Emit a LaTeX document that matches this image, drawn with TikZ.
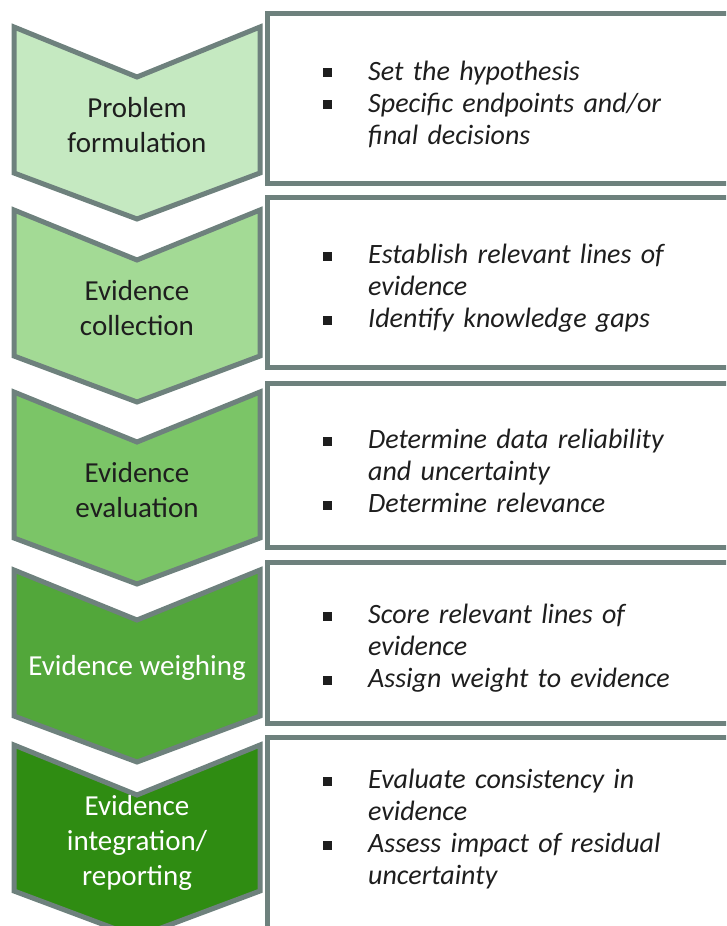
\documentclass[tikz,border=0pt]{standalone}
\usepackage{fontspec}
\setmainfont{Carlito}
\definecolor{edgegrey}{HTML}{6E817D}
\definecolor{inkdark}{HTML}{1E1E1E}
\definecolor{stepA}{HTML}{C5E9C1}
\definecolor{stepB}{HTML}{A3DA95}
\definecolor{stepC}{HTML}{7BC567}
\definecolor{stepD}{HTML}{52A73A}
\definecolor{stepE}{HTML}{2F8C12}

% square bullets with a hanging indent
\newenvironment{steplist}{%
  \begin{list}{\rule[3pt]{9pt}{9pt}}{%
    \setlength{\leftmargin}{45pt}\setlength{\labelwidth}{9pt}%
    \setlength{\labelsep}{36pt}\setlength{\itemsep}{0pt}%
    \setlength{\topsep}{0pt}\setlength{\parsep}{0pt}\setlength{\partopsep}{0pt}}}%
  {\end{list}}

\tikzset{
  chevron/.style={draw=edgegrey, line width=5pt, line join=miter},
  steplabel/.style={align=center, inner sep=0pt, text=inkdark,
    font=\fontsize{29}{35}\selectfont},
  taskbox/.style={draw=edgegrey, line width=5pt, fill=white},
  tasktext/.style={anchor=west, inner sep=0pt, text width=390pt, align=left,
    text=inkdark, font=\fontsize{28}{32}\selectfont\itshape}
}

\begin{document}
\begin{tikzpicture}[x=1pt, y=-1pt]
  \useasboundingbox (0,0) rectangle (726,926);
  \clip (0,0) rectangle (726,926);

  % the five steps
  \foreach \t/\c in {27/stepA, 210/stepB, 392/stepC, 570/stepD, 745/stepE}
    \draw[chevron, fill=\c] (14,\t) -- (137,\t+50) -- (260,\t) -- (260,\t+146)
      -- (137,\t+192) -- (14,\t+146) -- cycle;

  \node[steplabel] (pf) at (137,125) {Problem\\formulation};
  \node[steplabel] (ec) at (137,308) {Evidence\\collection};
  \node[steplabel] (ee) at (137,490) {Evidence\\evaluation};
  \node[steplabel, text=white] (ew) at (137,668) {Evidence weighing};
  \node[steplabel, text=white] (ei) at (137,843) {Evidence\\integration/\\reporting};

  % what each step involves
  \draw[taskbox] (267,13) rectangle (750,183);
  \draw[taskbox] (267,197) rectangle (750,367);
  \draw[taskbox] (267,383) rectangle (750,547);
  \draw[taskbox] (267,562) rectangle (750,723);
  \draw[taskbox] (267,737) rectangle (750,960);

  \node[tasktext] (pfbox) at (323,98) {\begin{steplist}
    \item Set the hypothesis
    \item Specific endpoints and/or\newline final decisions
  \end{steplist}};
  \node[tasktext] (ecbox) at (323,282) {\begin{steplist}
    \item Establish relevant lines of\newline evidence
    \item Identify knowledge gaps
  \end{steplist}};
  \node[tasktext] (eebox) at (323,465) {\begin{steplist}
    \item Determine data reliability\newline and uncertainty
    \item Determine relevance
  \end{steplist}};
  \node[tasktext] (ewbox) at (323,642) {\begin{steplist}
    \item Score relevant lines of\newline evidence
    \item Assign weight to evidence
  \end{steplist}};
  \node[tasktext] (eibox) at (323,823) {\begin{steplist}
    \item Evaluate consistency in\newline evidence
    \item Assess impact of residual\newline uncertainty
  \end{steplist}};
\end{tikzpicture}
\end{document}
